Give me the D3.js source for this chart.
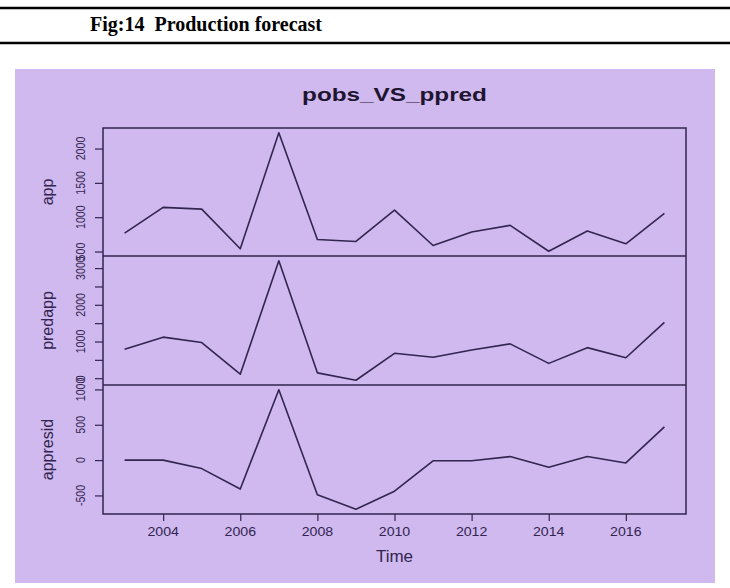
<!DOCTYPE html>
<html>
<head>
<meta charset="utf-8">
<script src="https://cdn.jsdelivr.net/npm/d3@7"></script>
<style>
  html, body { margin: 0; padding: 0; background: #ffffff; }
  svg { display: block; }
</style>
</head>
<body>
<svg id="chart" width="730" height="588"></svg>
<script>
// Observed production, predicted production and residuals by year
const years   = [2003, 2004, 2005, 2006, 2007, 2008, 2009, 2010, 2011, 2012, 2013, 2014, 2015, 2016, 2017];
const app     = [769, 1143, 1117, 540, 2230, 676, 647, 1103, 588, 784, 882, 504, 798, 613, 1054];
const predapp = [789, 1119, 971, 110, 3200, 146, -55, 679, 569, 770, 935, 404, 833, 558, 1521];
const apresid = [0, 0, -120, -410, 995, -490, -695, -440, -10, -10, 50, -100, 50, -40, 470];

// Axis ticks
const xTicks        = [2004, 2006, 2008, 2010, 2012, 2014, 2016];
const appTicks      = [500, 1000, 1500, 2000];
const appLabels     = [500, 1000, 1500, 2000];
const predTicks     = [0, 500, 1000, 1500, 2000, 2500, 3000];
const predLabels    = [0, 1000, 2000, 3000];
const residTicks    = [-500, 0, 500, 1000];
const residLabels   = [-500, 0, 500, 1000];

const svg = d3.select("#chart");
const ink = "#33254f";
const bg = "#cfb9ef";

// Caption band
svg.append("rect").attr("x", 0).attr("y", 0).attr("width", 730).attr("height", 588).attr("fill", "#ffffff");
svg.append("line").attr("x1", 0).attr("x2", 730).attr("y1", 8).attr("y2", 8)
  .attr("stroke", "#000").attr("stroke-width", 2.5);
svg.append("line").attr("x1", 0).attr("x2", 730).attr("y1", 43).attr("y2", 43)
  .attr("stroke", "#000").attr("stroke-width", 2.5);
svg.append("text").attr("x", 90).attr("y", 31)
  .attr("font-family", "'Liberation Serif', 'Times New Roman', serif")
  .attr("font-weight", "bold").attr("font-size", 20)
  .attr("fill", "#000")
  .attr("xml:space", "preserve")
  .text("Fig:14  Production forecast");

// Plot background
svg.append("rect").attr("x", 15).attr("y", 69).attr("width", 700).attr("height", 514).attr("fill", bg);

const left = 103, right = 686;
const panelTops = [128, 256, 385];
const panelBottoms = [256, 385, 514];

// R-style 4% padding on each side of the data range
function padded(vals) {
  const [lo, hi] = d3.extent(vals);
  const p = (hi - lo) * 0.04;
  return [lo - p, hi + p];
}

const x = d3.scaleLinear().domain(padded(years)).range([left, right]);

const panels = [
  { name: "app",      values: app,     ticks: appTicks,   labels: appLabels },
  { name: "predapp",  values: predapp, ticks: predTicks,  labels: predLabels },
  { name: "appresid", values: apresid, ticks: residTicks, labels: residLabels }
];

const fontSans = "'Liberation Sans', Arial, sans-serif";

panels.forEach((p, i) => {
  const top = panelTops[i], bottom = panelBottoms[i];
  const y = d3.scaleLinear().domain(padded(p.values)).range([bottom, top]);
  const g = svg.append("g");

  // y axis ticks
  const axis = d3.axisLeft(y).tickValues(p.ticks).tickFormat("").tickSize(8).tickSizeOuter(0);
  const ag = g.append("g").attr("transform", `translate(${left},0)`).call(axis);
  ag.select(".domain").remove();
  ag.selectAll(".tick line").attr("stroke", ink).attr("stroke-width", 1.2);

  // rotated tick labels
  g.selectAll("text.ylab").data(p.labels).enter().append("text")
    .attr("class", "ylab")
    .attr("transform", d => `translate(85,${y(d)}) rotate(-90) scale(0.82,1)`)
    .attr("text-anchor", "middle")
    .attr("font-family", fontSans).attr("font-size", 13)
    .attr("fill", ink)
    .text(d => d);

  // panel title on the left
  g.append("text")
    .attr("transform", `translate(53,${(top + bottom) / 2}) rotate(-90)`)
    .attr("text-anchor", "middle")
    .attr("font-family", fontSans).attr("font-size", 16)
    .attr("fill", ink)
    .text(p.name);

  // series line
  const line = d3.line().x((d, k) => x(years[k])).y(d => y(d));
  g.append("path").datum(p.values)
    .attr("d", line)
    .attr("fill", "none").attr("stroke", ink).attr("stroke-width", 1.6)
    .attr("stroke-linejoin", "round");
});

// panel frames
svg.append("rect").attr("x", left).attr("y", panelTops[0])
  .attr("width", right - left).attr("height", panelBottoms[2] - panelTops[0])
  .attr("fill", "none").attr("stroke", ink).attr("stroke-width", 1.5);
[panelBottoms[0], panelBottoms[1]].forEach(yy => {
  svg.append("line").attr("x1", left).attr("x2", right).attr("y1", yy).attr("y2", yy)
    .attr("stroke", ink).attr("stroke-width", 1.5);
});

// x axis
const xa = svg.append("g").attr("transform", `translate(0,${panelBottoms[2]})`)
  .call(d3.axisBottom(x).tickValues(xTicks).tickFormat("").tickSize(7).tickSizeOuter(0));
xa.select(".domain").remove();
xa.selectAll(".tick line").attr("stroke", ink).attr("stroke-width", 1.2);
svg.selectAll("text.xlab").data(xTicks).enter().append("text")
  .attr("class", "xlab")
  .attr("transform", d => `translate(${x(d)},536) scale(1.18,1)`)
  .attr("text-anchor", "middle")
  .attr("font-family", fontSans).attr("font-size", 12)
  .attr("fill", ink)
  .text(d => d);

svg.append("text").attr("x", (left + right) / 2).attr("y", 562)
  .attr("text-anchor", "middle")
  .attr("font-family", fontSans).attr("font-size", 17)
  .attr("fill", ink)
  .text("Time");

// main title
svg.append("text")
  .attr("transform", `translate(${(left + right) / 2},101) scale(1.35,1)`)
  .attr("text-anchor", "middle")
  .attr("font-family", fontSans).attr("font-weight", "bold").attr("font-size", 18)
  .attr("fill", "#1e1530")
  .text("pobs_VS_ppred");
</script>
</body>
</html>
